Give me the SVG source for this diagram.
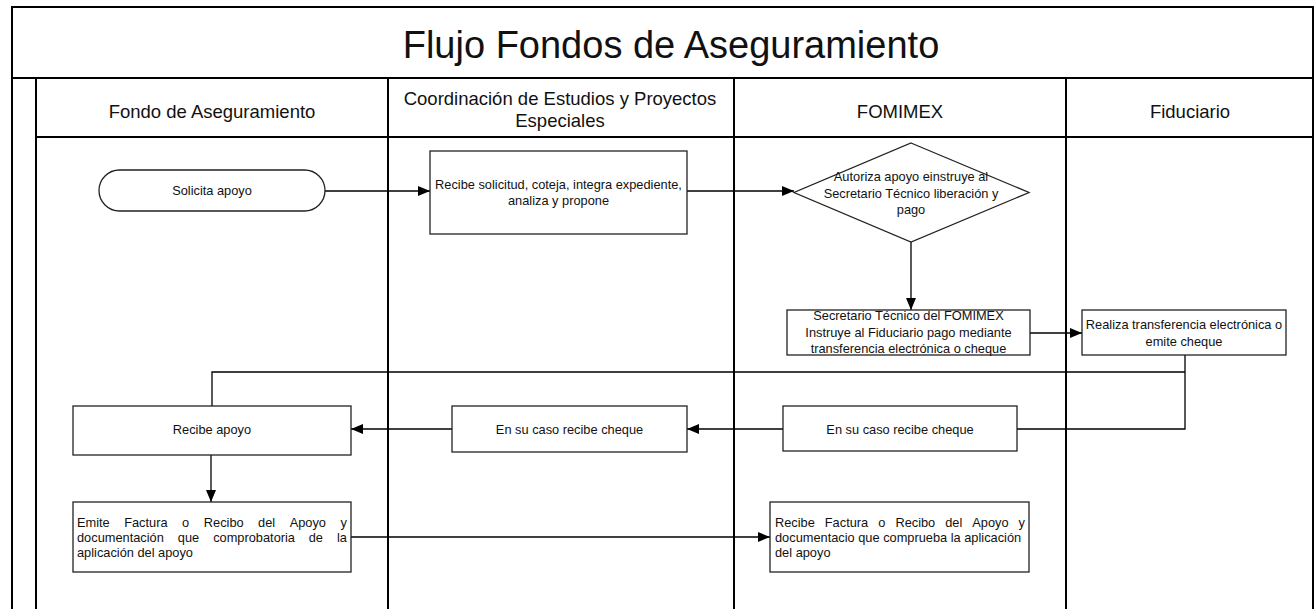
<svg xmlns="http://www.w3.org/2000/svg" width="1315" height="609" viewBox="0 0 1315 609">
<style>
.lane{fill:none;stroke:#000;stroke-width:2}
.box{fill:#fff;stroke:#222;stroke-width:1.3}
.con{fill:none;stroke:#000;stroke-width:1.3}
.t{font-family:"Liberation Sans",Arial,sans-serif;font-size:12.8px;fill:#111}
.c{text-anchor:middle}
.h{font-family:"Liberation Sans",Arial,sans-serif;font-size:18.5px;fill:#111;text-anchor:middle}
.title{font-family:"Liberation Sans",Arial,sans-serif;font-size:38px;fill:#111;text-anchor:middle}
</style>
<defs>
<marker id="ah" viewBox="0 0 12 10" refX="12" refY="5" markerWidth="12" markerHeight="10" markerUnits="userSpaceOnUse" orient="auto">
<path d="M0,0 L12,5 L0,10 Z" fill="#000"/>
</marker>
</defs>
<rect width="1315" height="609" fill="#fff"/>
<g id="pool">
<rect class="lane" x="12" y="7" width="1301" height="620"/>
<line class="lane" x1="12" y1="78" x2="1313" y2="78"/>
<line class="lane" x1="36" y1="78" x2="36" y2="609"/>
<line class="lane" x1="36" y1="137" x2="1313" y2="137"/>
<line class="lane" x1="388" y1="78" x2="388" y2="609"/>
<line class="lane" x1="734" y1="78" x2="734" y2="609"/>
<line class="lane" x1="1066" y1="78" x2="1066" y2="609"/>
<text class="title" x="671" y="58">Flujo Fondos de Aseguramiento</text>
<text class="h" x="212" y="118">Fondo de Aseguramiento</text>
<text class="h" x="560" y="105">Coordinación de Estudios y Proyectos</text>
<text class="h" x="560" y="127">Especiales</text>
<text class="h" x="900" y="118">FOMIMEX</text>
<text class="h" x="1190" y="118">Fiduciario</text>
</g>
<g id="connectors">
<path class="con" d="M325,191 H430" marker-end="url(#ah)"/>
<path class="con" d="M687,191 H794" marker-end="url(#ah)"/>
<path class="con" d="M911,242 V310" marker-end="url(#ah)"/>
<path class="con" d="M1030,333 H1082" marker-end="url(#ah)"/>
<path class="con" d="M1185,355 V429 H1017"/>
<path class="con" d="M1185,372 H212 V406"/>
<path class="con" d="M783,429 H687" marker-end="url(#ah)"/>
<path class="con" d="M452,429 H351" marker-end="url(#ah)"/>
<path class="con" d="M211,455 V502" marker-end="url(#ah)"/>
<path class="con" d="M351,537 H770" marker-end="url(#ah)"/>
</g>
<g id="n1">
<rect class="box" x="99" y="170" width="226" height="41" rx="20.5"/>
<text class="t c" x="212" y="195">Solicita apoyo</text>
</g>
<g id="n2">
<rect class="box" x="430" y="151" width="257" height="83"/>
<text class="t c" x="558.5" y="189">Recibe solicitud, coteja, integra expediente,</text>
<text class="t c" x="558.5" y="205">analiza y propone</text>
</g>
<g id="n3">
<polygon class="box" points="911,143 1029,192.5 911,242 794,192.5"/>
<text class="t c" x="911" y="181">Autoriza apoyo einstruye al</text>
<text class="t c" x="911" y="197.5">Secretario Técnico liberación y</text>
<text class="t c" x="911" y="213.5">pago</text>
</g>
<g id="n4">
<rect class="box" x="787" y="310" width="243" height="45"/>
<text class="t c" x="908.5" y="320">Secretario Técnico del FOMIMEX</text>
<text class="t c" x="908.5" y="336.5">Instruye al Fiduciario pago mediante</text>
<text class="t c" x="908.5" y="352.5">transferencia electrónica o cheque</text>
</g>
<g id="n5">
<rect class="box" x="1082" y="310" width="204" height="45"/>
<text class="t c" x="1184" y="329">Realiza transferencia electrónica o</text>
<text class="t c" x="1184" y="345.5">emite cheque</text>
</g>
<g id="n6">
<rect class="box" x="73" y="406" width="278" height="49"/>
<text class="t c" x="212" y="434">Recibe apoyo</text>
</g>
<g id="n7">
<rect class="box" x="452" y="406" width="235" height="46"/>
<text class="t c" x="569.5" y="434">En su caso recibe cheque</text>
</g>
<g id="n8">
<rect class="box" x="783" y="406" width="234" height="45"/>
<text class="t c" x="900" y="434">En su caso recibe cheque</text>
</g>
<g id="n9">
<rect class="box" x="73" y="502" width="278" height="70"/>
<text class="t" y="527"><tspan x="77">Emite </tspan><tspan x="124.2">Factura </tspan><tspan x="182.1">o </tspan><tspan x="203.8">Recibo </tspan><tspan x="258.1">del </tspan><tspan x="289.7">Apoyo </tspan><tspan x="340.5">y</tspan></text>
<text class="t" y="542"><tspan x="77">documentación </tspan><tspan x="177.8">que </tspan><tspan x="213.2">comprobatoria </tspan><tspan x="308.7">de </tspan><tspan x="336.9">la</tspan></text>
<text class="t" x="77" y="557">aplicación del apoyo</text>
</g>
<g id="n10">
<rect class="box" x="770" y="502" width="259" height="70"/>
<text class="t" y="527"><tspan x="775">Recibe </tspan><tspan x="824.8">Factura </tspan><tspan x="878.2">o </tspan><tspan x="895.4">Recibo </tspan><tspan x="945.2">del </tspan><tspan x="972.3">Apoyo </tspan><tspan x="1018.6">y</tspan></text>
<text class="t" x="775" y="542">documentacio que comprueba la aplicación</text>
<text class="t" x="775" y="557">del apoyo</text>
</g>
</svg>
